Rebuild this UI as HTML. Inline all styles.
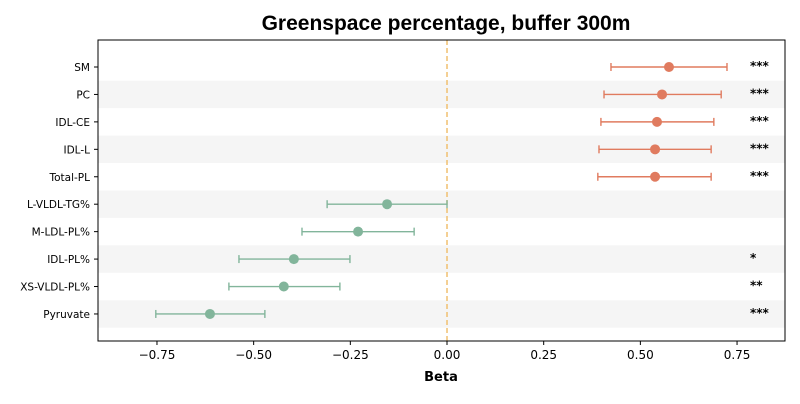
<!DOCTYPE html>
<html><head><meta charset="utf-8"><style>
body{margin:0;background:#fff;font-family:"DejaVu Sans","Liberation Sans",sans-serif}
svg text{font-family:"DejaVu Sans","Liberation Sans",sans-serif}
svg text.title{font-family:"Liberation Sans",sans-serif}
</style></head><body>
<svg id="chart" width="800" height="400">
<text class="title" x="446" y="30" text-anchor="middle" font-size="21" font-weight="bold">Greenspace percentage, buffer 300m</text>
<g id="bands"></g><g id="grid"></g><g id="marks"></g><g id="axes"></g>
<text x="441" y="381" text-anchor="middle" font-size="13" font-weight="bold">Beta</text>
</svg>
<script>
const labels=["SM","PC","IDL-CE","IDL-L","Total-PL","L-VLDL-TG%","M-LDL-PL%","IDL-PL%","XS-VLDL-PL%","Pyruvate"];
const betas=[0.574,0.556,0.543,0.538,0.538,-0.155,-0.230,-0.396,-0.422,-0.613];
const lows=[0.424,0.406,0.398,0.393,0.390,-0.310,-0.375,-0.538,-0.564,-0.753];
const highs=[0.724,0.709,0.690,0.683,0.683,0.0,-0.085,-0.251,-0.277,-0.471];
const stars=["***","***","***","***","***","","","*","**","***"];
const xticks=[-0.75,-0.5,-0.25,0,0.25,0.5,0.75];
const NS="http://www.w3.org/2000/svg";
const L=98,R=785,T=40,B=341;
const xMin=-0.9025,xMax=0.874;
const x=v=>L+(v-xMin)/(xMax-xMin)*(R-L);
const y0=67,dy=27.44;
const y=i=>y0+i*dy;
function mk(tag,attrs,parent){const e=document.createElementNS(NS,tag);for(const k in attrs)e.setAttribute(k,attrs[k]);document.getElementById(parent).appendChild(e);return e;}
labels.forEach((lab,i)=>{
  if(i%2===1){const b=mk('rect',{x:L,y:y(i)-dy/2,width:R-L,height:dy,fill:'#f5f5f5'},'bands');
  
  }
  const c=betas[i]>0?'#e07b5f':'#82b59b';
  const g=mk('g',{},'marks');
  
  
  const yy=y(i);
  [['line',{x1:x(lows[i]),x2:x(highs[i]),y1:yy,y2:yy}],['line',{x1:x(lows[i]),x2:x(lows[i]),y1:yy-4,y2:yy+4}],['line',{x1:x(highs[i]),x2:x(highs[i]),y1:yy-4,y2:yy+4}]].forEach(([t,a])=>{const e=document.createElementNS(NS,t);for(const k in a)e.setAttribute(k,a[k]);e.setAttribute('stroke',c);e.setAttribute('stroke-width','1.4');g.appendChild(e);});
  const ci=document.createElementNS(NS,'circle');ci.setAttribute('cx',x(betas[i]));ci.setAttribute('cy',yy);ci.setAttribute('r',5);ci.setAttribute('fill',c);g.appendChild(ci);
  const t=mk('text',{x:L-8,y:yy+4,'text-anchor':'end','font-size':10.5},'axes');t.textContent=lab;
  
  
  mk('line',{x1:L-4,x2:L,y1:yy,y2:yy,stroke:'#000'},'axes');
  if(stars[i]){const s=mk('text',{x:750,y:yy+3,'font-size':12,'font-weight':'bold'},'marks');s.textContent=stars[i];
  
  }
});
const zl=mk('line',{x1:x(0),x2:x(0),y1:T,y2:B,stroke:'#f0c070','stroke-width':1.5,'stroke-dasharray':'5,3'},'grid');


const fr=mk('rect',{x:L,y:T,width:R-L,height:B-T,fill:'none',stroke:'#000','stroke-width':1},'axes');


xticks.forEach((v,i)=>{
  mk('line',{x1:x(v),x2:x(v),y1:B,y2:B+4,stroke:'#000'},'axes');
  const t=mk('text',{x:x(v),y:B+18,'text-anchor':'middle','font-size':12},'axes');
  t.textContent=v<0?"\u2212"+Math.abs(v).toFixed(2):v.toFixed(2);
  
  
});
</script>
</body></html>
